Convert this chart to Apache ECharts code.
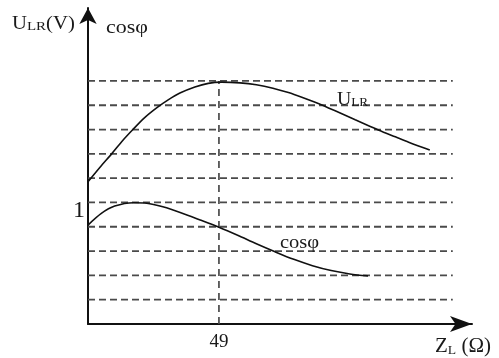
<!DOCTYPE html>
<html><head><meta charset="utf-8">
<script src="https://cdn.jsdelivr.net/npm/echarts@6/dist/echarts.min.js"></script>
<style>html,body{margin:0;padding:0;background:#fff}#c{width:499px;height:358px}</style>
</head><body><div id="c"></div>
<script>
// data (x in Ω, y in grid units; 1 grid unit = spacing of the dashed lines)
const uLR_x = [0, 4.5, 9, 13, 16.8, 21, 25.8, 30, 34.4, 40, 45, 50, 56.9, 63, 69.2, 75, 80, 85, 90, 95, 100, 105, 110, 115, 120, 127.9];
const uLR_y = [5.85, 6.45, 7.02, 7.55, 8.0, 8.47, 8.9, 9.22, 9.5, 9.75, 9.9, 9.95, 9.92, 9.84, 9.70, 9.52, 9.33, 9.12, 8.89, 8.65, 8.40, 8.16, 7.92, 7.70, 7.48, 7.16];
const cos_x = [0, 5, 10, 17, 22, 28, 35, 42, 49, 56, 63, 70, 77, 84, 91, 98, 104.8];
const cos_y = [4.07, 4.55, 4.85, 4.99, 4.97, 4.82, 4.57, 4.28, 3.98, 3.65, 3.3, 2.97, 2.66, 2.4, 2.2, 2.06, 1.98];
const gridLevels = [1, 2, 3, 4, 5, 6, 7, 8, 9, 10];
const gridEndX = 136.5;
const markX = 49;
const markTopY = 10;
const xTickValues = [49];
const yTickValues = [5];
const yTickLabels = ['1'];

const SERIF = '"Liberation Serif","DejaVu Serif",serif';
const chart = echarts.init(document.getElementById('c'));

const zip = (xs, ys) => xs.map((x, i) => [x, ys[i]]);
const series = [];
gridLevels.forEach(k => {
  series.push({
    type: 'line', data: [[0, k], [gridEndX, k]], symbol: 'none', silent: true, z: 1,
    lineStyle: { color: '#4a4a4a', width: 1.8, type: [7, 4] }
  });
});
series.push({
  type: 'line', data: [[markX, 0], [markX, markTopY]], symbol: 'none', silent: true, z: 1,
  lineStyle: { color: '#4a4a4a', width: 1.7, type: [7, 5] }
});
series.push({
  type: 'line', data: zip(uLR_x, uLR_y), symbol: 'none', smooth: 0.3, z: 3,
  lineStyle: { color: '#111', width: 1.6 }
});
series.push({
  type: 'line', data: zip(cos_x, cos_y), symbol: 'none', smooth: 0.3, z: 3,
  lineStyle: { color: '#111', width: 1.6 }
});

const txt = (x, y, sx, text, rich) => ({
  type: 'text', x, y, scaleX: sx, z: 10,
  style: { x: 0, y: 0, text, rich, verticalAlign: 'bottom', align: 'left' }
});
const big = (s) => ({ fontFamily: SERIF, fontSize: s, fill: '#1a1a1a', verticalAlign: 'bottom' });

chart.setOption({
  animation: false,
  backgroundColor: '#fff',
  grid: { left: 88, right: 27, top: 8, bottom: 34, containLabel: false },
  xAxis: {
    type: 'value', min: 0, max: 143.7,
    axisLine: { show: true, symbol: ['none', 'arrow'], symbolSize: [12, 22], lineStyle: { color: '#111', width: 2 } },
    axisTick: { show: false }, splitLine: { show: false },
    axisLabel: { customValues: xTickValues, fontFamily: SERIF, fontSize: 19, lineHeight: 19, color: '#1a1a1a', margin: 9 }
  },
  yAxis: {
    type: 'value', min: 0, max: 13,
    axisLine: { show: true, symbol: ['none', 'arrow'], symbolSize: [13, 16], lineStyle: { color: '#111', width: 2 } },
    axisTick: { show: false }, splitLine: { show: false },
    axisLabel: {
      customValues: yTickValues,
      formatter: v => yTickLabels[yTickValues.indexOf(v)] ?? '',
      fontFamily: SERIF, fontSize: 24, lineHeight: 16, verticalAlign: 'top', color: '#1a1a1a', margin: 3
    }
  },
  graphic: [
    txt(12, 33, 1.15, '{a|U}{b|LR}{a|(V)}', { a: big(18), b: big(13) }),
    txt(106, 37, 1.22, '{a|cosφ}', { a: big(18) }),
    txt(337, 109, 1.1, '{a|U}{b|LR}', { a: big(18), b: Object.assign(big(12), { lineHeight: 10 }) }),
    txt(280, 252, 1.14, '{a|cosφ}', { a: big(18) }),
    txt(435, 357, 1.05, '{a|Z}{b|L}{a| (Ω)}', { a: big(20), b: Object.assign(big(13), { lineHeight: 10 }) })
  ],
  series
});
</script>
</body></html>
